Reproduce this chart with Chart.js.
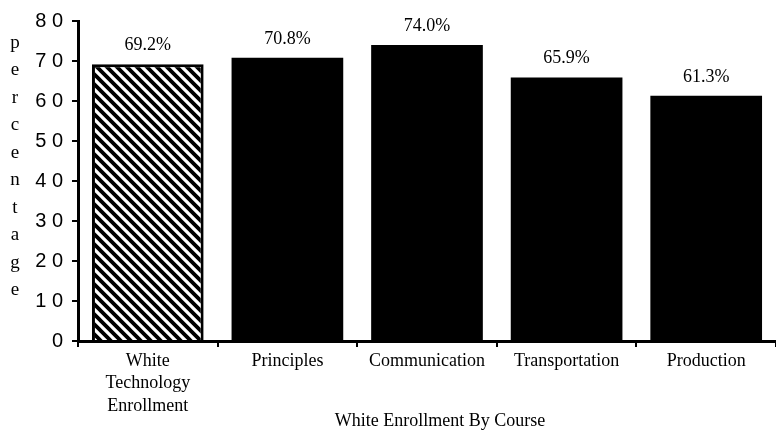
<!DOCTYPE html>
<html>
<head>
<meta charset="utf-8">
<script src="https://cdn.jsdelivr.net/npm/chart.js@4/dist/chart.umd.min.js"></script>
<style>
  html, body { margin: 0; background: #fff; }
</style>
</head>
<body>
<canvas id="grafico" width="776" height="438"></canvas>
<script>
// Datos del grafico
const categories = [['White', 'Technology', 'Enrollment'], 'Principles', 'Communication', 'Transportation', 'Production'];
const percentages = [69.2, 70.8, 74.0, 65.9, 61.3];
const valueLabels = ['69.2%', '70.8%', '74.0%', '65.9%', '61.3%'];
const yTicks = [0, 10, 20, 30, 40, 50, 60, 70, 80];
const yTitle = 'percentage';
const xTitle = 'White Enrollment By Course';

const serif = '"Liberation Serif", "DejaVu Serif", serif';
const sans = '"Liberation Sans", Arial, sans-serif';

// Patron rayado para la primera barra
function crearRayado() {
    const p = document.createElement('canvas');
    p.width = 10; p.height = 10;
    const g = p.getContext('2d');
    g.fillStyle = '#fff';
    g.fillRect(0, 0, 10, 10);
    g.strokeStyle = '#000';
    g.lineWidth = 3.8;
    g.beginPath();
    g.moveTo(-5, -5); g.lineTo(15, 15);
    g.moveTo(-10, 0); g.lineTo(10, 20);
    g.moveTo(0, -10); g.lineTo(20, 10);
    g.stroke();
    return g.createPattern(p, 'repeat');
}

const ctx = document.getElementById('grafico').getContext('2d');
const rayado = crearRayado();

// Textos extra: etiquetas de valor, titulo vertical y titulo del eje x
const textosPlugin = {
    id: 'textos',
    afterDatasetsDraw(chart) {
        const c = chart.ctx;
        const meta = chart.getDatasetMeta(0);
        c.save();
        c.fillStyle = '#000';
        c.textAlign = 'center';
        c.textBaseline = 'alphabetic';
        c.font = '18px ' + serif;
        meta.data.forEach((bar, i) => {
            c.fillText(valueLabels[i], bar.x, bar.y - 14);
        });

        // titulo vertical letra por letra
        c.font = '19px ' + serif;
        c.textBaseline = 'middle';
        const top = chart.chartArea.top + 22;
        const paso = 27.5;
        yTitle.split('').forEach((l, i) => {
            c.fillText(l, 15, top + i * paso);
        });

        // titulo del eje x
        c.font = '18px ' + serif;
        c.fillText(xTitle, 440, 421);
        c.restore();
    }
};

new Chart(ctx, {
    type: 'bar',
    data: {
        labels: categories,
        datasets: [{
            data: percentages,
            backgroundColor: percentages.map((v, i) => i === 0 ? rayado : '#000'),
            borderColor: '#000',
            borderWidth: percentages.map((v, i) => i === 0 ? 3 : 0),
            barPercentage: 0.8,
            categoryPercentage: 1
        }]
    },
    options: {
        responsive: false,
        devicePixelRatio: 1,
        animation: false,
        layout: { padding: { top: 21, left: 0, right: 0, bottom: 0 } },
        plugins: {
            legend: { display: false },
            tooltip: { enabled: false }
        },
        scales: {
            x: {
                afterFit: (scale) => { scale.height = 97; },
                grid: {
                    offset: true,
                    drawOnChartArea: false,
                    drawTicks: true,
                    tickLength: 6,
                    color: '#000',
                    lineWidth: 2
                },
                border: { color: '#000', width: 3 },
                ticks: {
                    color: '#000',
                    font: { family: serif, size: 18, lineHeight: 1.25 },
                    padding: 3,
                    maxRotation: 0,
                    autoSkip: false
                }
            },
            y: {
                min: 0,
                max: 80,
                afterFit: (scale) => { scale.width = 78; },
                afterBuildTicks: (scale) => { scale.ticks = yTicks.map(v => ({ value: v })); },
                grid: {
                    drawOnChartArea: false,
                    drawTicks: true,
                    tickLength: 6,
                    color: '#000',
                    lineWidth: 2
                },
                border: { color: '#000', width: 3 },
                ticks: {
                    color: '#000',
                    font: { family: sans, size: 20 },
                    padding: 9,
                    callback: (v) => String(v).split('').join(' ')
                }
            }
        }
    },
    plugins: [textosPlugin]
});
</script>
</body>
</html>
